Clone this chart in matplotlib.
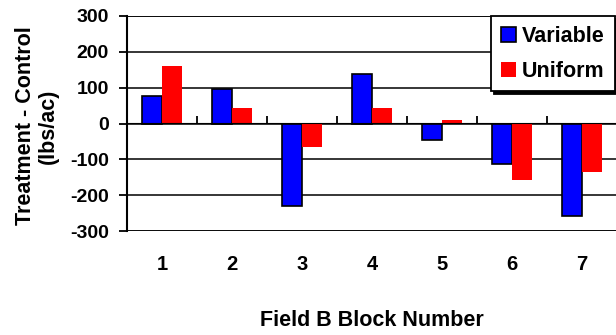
import matplotlib
matplotlib.use("Agg")
import matplotlib.pyplot as plt
import numpy as np

plt.rcParams['font.family'] = ['Liberation Sans', 'DejaVu Sans']
plt.rcParams['font.weight'] = 'bold'
plt.rcParams['axes.unicode_minus'] = False

# Data
blocks = ['1', '2', '3', '4', '5', '6', '7']
variable = [78, 96, -229, 139, -45, -112, -258]
uniform = [161, 44, -66, 44, 10, -157, -135]
yticks = [-300, -200, -100, 0, 100, 200, 300]
series_names = ['Variable', 'Uniform']
ylabel = 'Treatment - Control\n(lbs/ac)'
xlabel = 'Field B Block Number'

W, H = 616, 335
fig = plt.figure(figsize=(W / 100, H / 100), dpi=100)
ax = fig.add_axes([127 / W, (H - 231) / H, 490 / W, 215 / H])

x = np.arange(1, len(blocks) + 1)
bw = 0.286
ax.bar(x - bw / 2, variable, bw, color='#0000FF', edgecolor='black', linewidth=1.2,
       label=series_names[0], zorder=3)
ax.bar(x + bw / 2, uniform, bw, color='#FF0000', edgecolor='none', linewidth=0,
       label=series_names[1], zorder=3)

ax.set_xlim(0.5, 7.5)
ax.set_ylim(yticks[0], yticks[-1])
ax.set_yticks(yticks)
ax.set_yticklabels([str(v) for v in yticks], fontsize=14, fontweight='bold')
ax.set_xticks(x)
ax.set_xticklabels(blocks, fontsize=14.5, fontweight='bold')
ax.tick_params(axis='x', length=0, pad=17)
ax.tick_params(axis='y', direction='out', length=6, width=1.3, pad=7, color='black')

ax.grid(axis='y', color='black', linewidth=1.1, zorder=1)
ax.set_axisbelow(True)
for s in ['top', 'right', 'bottom']:
    ax.spines[s].set_visible(False)
ax.spines['left'].set_linewidth(1.5)
ax.spines['left'].set_zorder(4)
ax.axhline(yticks[-1], color='black', linewidth=1.1, zorder=1)
ax.axhline(yticks[0], color='black', linewidth=1.8, zorder=1)

# zero-line axis with tick marks between categories
zero_frac = (0 - yticks[0]) / (yticks[-1] - yticks[0])
sec = ax.secondary_xaxis(zero_frac)
sec.set_xticks(x[:-1] + 0.5)
sec.set_xticklabels([])
sec.tick_params(axis='x', direction='out', length=5, width=1.3, color='black')
sec.spines['bottom'].set_linewidth(1.6)
sec.set_zorder(5)

leg = ax.legend(loc='upper left', bbox_to_anchor=((491 - 127) / 490, 1.0),
                fontsize=15.5, frameon=True, fancybox=False, framealpha=1,
                edgecolor='black', borderaxespad=0, handlelength=0.7,
                handleheight=0.7, handletextpad=0.3, labelspacing=0.65,
                borderpad=0.45, shadow={'color': 'black', 'alpha': 1})
leg.get_frame().set_linewidth(1.3)
for t in leg.get_texts():
    t.set_fontweight('bold')
leg.set_zorder(10)

fig.text(37 / W, 1 - 126 / H, ylabel, rotation=90, ha='center', va='center',
         fontsize=15.5, fontweight='bold', multialignment='center', linespacing=1.15)
fig.text(372 / W, 1 - 320 / H, xlabel, ha='center', va='center',
         fontsize=15.5, fontweight='bold')

fig.savefig('out.png', dpi=100)
